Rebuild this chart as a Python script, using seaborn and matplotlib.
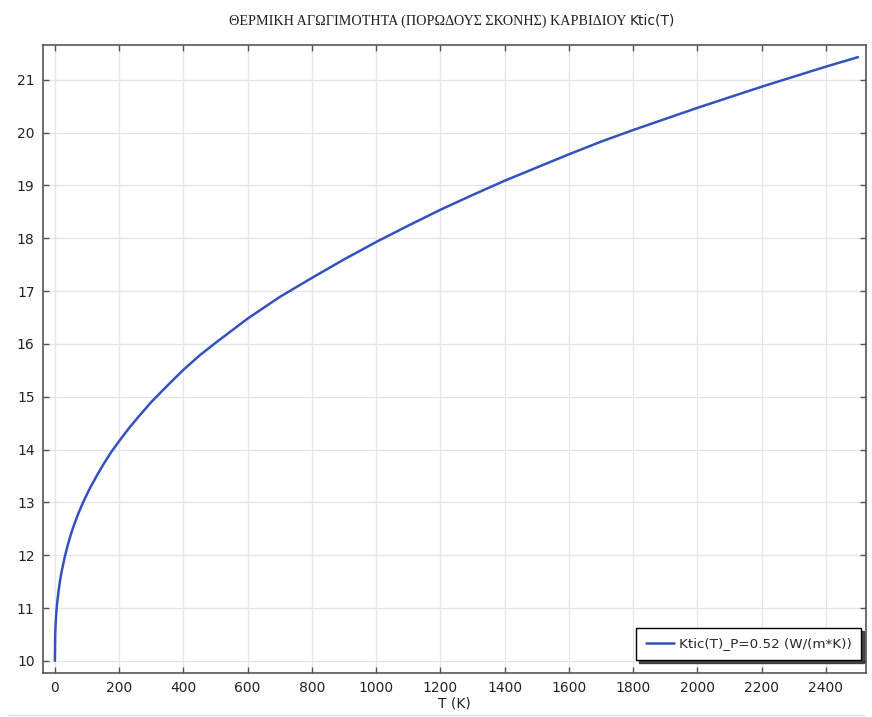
import numpy as np
import pandas as pd
import matplotlib
matplotlib.use('Agg')
import matplotlib.pyplot as plt
import seaborn as sns
from matplotlib.lines import Line2D

# values
temperature = [0, 1, 2, 3, 5, 7, 10, 15, 20, 30, 40, 50, 60, 75, 90, 110, 130, 150,
               175, 200, 230, 260, 300, 350, 400, 450, 500, 600, 700, 800, 900, 1000,
               1100, 1200, 1300, 1400, 1500, 1600, 1700, 1800, 1900, 2000, 2100, 2200,
               2300, 2400, 2500]
conductivity = [10.00, 10.50, 10.66, 10.78, 10.96, 11.09, 11.25, 11.48, 11.66, 11.95,
                12.19, 12.40, 12.58, 12.82, 13.03, 13.28, 13.50, 13.71, 13.95, 14.16,
                14.40, 14.62, 14.90, 15.21, 15.51, 15.78, 16.02, 16.48, 16.89, 17.25,
                17.60, 17.93, 18.24, 18.54, 18.82, 19.09, 19.34, 19.59, 19.83, 20.05,
                20.26, 20.47, 20.67, 20.87, 21.06, 21.25, 21.43]

x_ticks = list(range(0, 2401, 200))
y_ticks = list(range(10, 22))
series_label = 'Ktic(T)_P=0.52 (W/(m*K))'
title_greek = 'ΘΕΡΜΙΚΗ ΑΓΩΓΙΜΟΤΗΤΑ (ΠΟΡΩΔΟΥΣ ΣΚΟΝΗΣ) ΚΑΡΒΙΔΙΟΥ'
title_tail = 'Ktic(T)'

df = pd.DataFrame({'T': temperature, 'k': conductivity})

sns.set_style('white')
plt.rcParams['font.family'] = ['DejaVu Sans']

fig = plt.figure(figsize=(8.72, 7.17), dpi=100)
ax = fig.add_axes([43 / 872, 1 - 673 / 717, (866 - 43) / 872, (673 - 45) / 717])

sns.lineplot(data=df, x='T', y='k', ax=ax, color='#3352bd', linewidth=1.8,
             label=series_label)

ax.set_xlim(-37, 2525)
ax.set_ylim(9.77, 21.66)
ax.set_xticks(x_ticks)
ax.set_yticks(y_ticks)
ax.grid(True, color='#e6e6e6', linewidth=1.0)
ax.tick_params(direction='in', length=4, width=1, color='#555555',
               labelcolor='#222222', labelsize=10, top=True, right=True,
               bottom=True, left=True, pad=6)
for s in ax.spines.values():
    s.set_color('#555555')
    s.set_linewidth(1.2)

ax.set_xlabel('T (K)', fontsize=10, color='#222222', labelpad=1)
ax.set_ylabel('')

leg = ax.legend(loc='lower right', fontsize=9.7, frameon=True, fancybox=False,
                shadow={'color': '#333333', 'alpha': 0.9}, borderpad=0.7,
                handlelength=2.1, handletextpad=0.35, borderaxespad=0,
                bbox_to_anchor=(0.994, 0.021))
leg.get_frame().set_edgecolor('black')
leg.get_frame().set_linewidth(1.0)
leg.get_frame().set_alpha(1.0)

# title: serif greek part plus sans tail
fig.text(626 / 872, 1 - 21 / 717, title_greek, ha='right', va='center',
         fontsize=10.2, family='Liberation Serif', color='#222222')
fig.text(630 / 872, 1 - 21 / 717, title_tail, ha='left', va='center',
         fontsize=10, family='DejaVu Sans', color='#222222')

# faint separator line at the bottom of the screenshot
fig.add_artist(Line2D([8 / 872, 864 / 872], [1 - 715 / 717] * 2,
                      color='#dcdcf0', linewidth=1, transform=fig.transFigure))

fig.savefig('out.png', dpi=100)
